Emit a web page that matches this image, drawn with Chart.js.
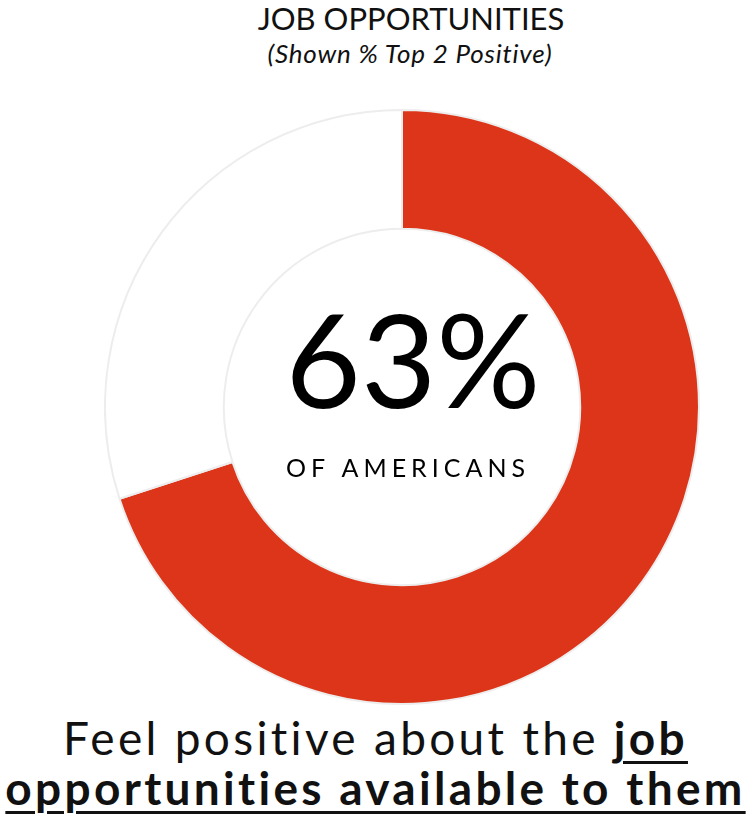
<!DOCTYPE html>
<html>
<head>
<meta charset="utf-8">
<script src="https://cdn.jsdelivr.net/npm/chart.js@4"></script>
<style>
  body { margin: 0; background: #fff; width: 751px; height: 819px; overflow: hidden; position: relative; font-family: Lato, "Open Sans", sans-serif; color: #111; }
  #title { position: absolute; top: -1px; left: 61px; width: 700px; text-align: center; font-size: 31px; }
  #subtitle { position: absolute; top: 37px; left: 60px; width: 700px; text-align: center; font-size: 26px; font-style: italic; letter-spacing: 0.8px; }
  #wrap { position: absolute; left: 104px; top: 109px; width: 596px; height: 596px; }
  #caption { position: absolute; top: 713px; left: 0; width: 751px; text-align: center; font-size: 46px; line-height: 50px; letter-spacing: 3.3px; white-space: nowrap; }
  #caption u { font-weight: bold; text-underline-offset: 6px; text-decoration-thickness: 3px; }
</style>
</head>
<body>
<div id="title">JOB OPPORTUNITIES</div>
<div id="subtitle">(Shown % Top 2 Positive)</div>
<div id="wrap"><canvas id="donut"></canvas></div>
<div id="caption">Feel positive about the <u>job</u><br><u>opportunities available to them</u></div>
<script>
// top 2 positive vs top 2 negative (neutral answers left out of the ring)
const labels = ["Positive", "Negative"];
const values = [63, 27];
const colors = ["#DD3519", "#FFFFFF"];
const centerLabel = "63%";
const centerSub = "OF AMERICANS";

// writes the big figure in the hole of the ring
const centerText = {
  id: "centerText",
  afterDraw(chart) {
    const arc = chart.getDatasetMeta(0).data[0];
    const ctx = chart.ctx;
    ctx.save();
    ctx.fillStyle = "#000";
    ctx.textAlign = "center";
    ctx.textBaseline = "alphabetic";
    ctx.font = "130px Lato, sans-serif";
    ctx.fillText(centerLabel, arc.x + 11, arc.y + 1);
    ctx.font = "25px Lato, sans-serif";
    ctx.letterSpacing = "5px";
    ctx.fillText(centerSub, arc.x + 6, arc.y + 70);
    ctx.restore();
  }
};

new Chart(document.getElementById("donut"), {
  type: "doughnut",
  data: {
    labels: labels,
    datasets: [{
      data: values,
      backgroundColor: colors,
      borderColor: "#EDEDED",
      borderWidth: 2
    }]
  },
  options: {
    responsive: true,
    maintainAspectRatio: false,
    animation: false,
    cutout: "60%",
    plugins: { legend: { display: false }, tooltip: { enabled: false } }
  },
  plugins: [centerText]
});
</script>
</body>
</html>
